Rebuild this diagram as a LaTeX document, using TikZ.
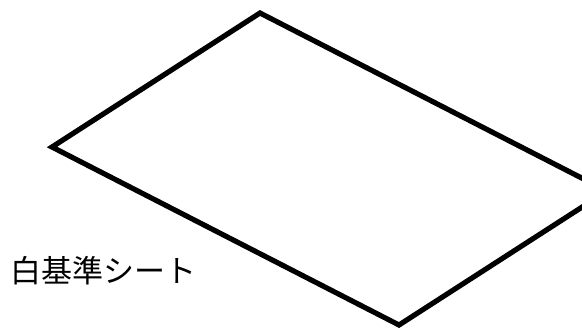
\documentclass[tikz,border=0pt]{standalone}
\usepackage{fontspec}
\newfontfamily\jpfont{Noto Sans CJK JP}
\usetikzlibrary{positioning}
\tikzset{
  sheet/.style={draw, line width=2.6pt, line join=miter, fill=white},
  sheetlabel/.style={font=\jpfont\fontsize{15.5}{16}\selectfont, inner sep=0pt, anchor=west},
}
\begin{document}
\begin{tikzpicture}[x=0.5pt, y=-0.5pt]
  \useasboundingbox (0,0) rectangle (582,328);
  \clip (0,0) rectangle (582,328);
  % corners of the sheet
  \coordinate (top) at (260,13);
  \coordinate (left) at (52,147);
  \coordinate (bottom) at (399,325);
  \coordinate (right) at (607,191);
  \draw[sheet] (top) -- (right) -- (bottom) -- (left) -- cycle;

  \node[sheetlabel] (label) at (10,271) {白基準シート};
\end{tikzpicture}
\end{document}
